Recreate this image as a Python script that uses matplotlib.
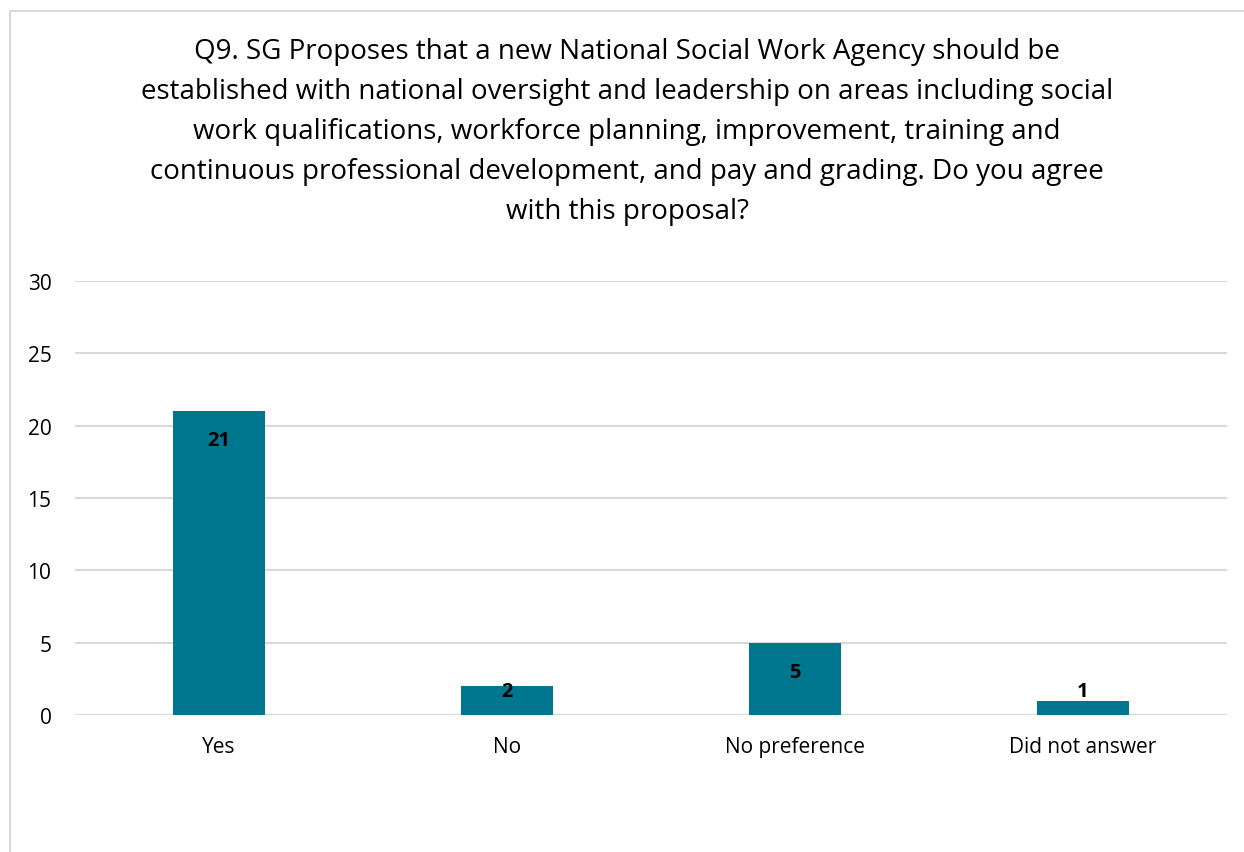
import matplotlib.pyplot as plt
from matplotlib.patches import Rectangle

categories = ["Yes", "No", "No preference", "Did not answer"]
counts = [21, 2, 5, 1]
yticks = [0, 5, 10, 15, 20, 25, 30]
title = ("Q9. SG Proposes that a new National Social Work Agency should be\n"
         "established with national oversight and leadership on areas including social\n"
         "work qualifications, workforce planning, improvement, training and\n"
         "continuous professional development, and pay and grading. Do you agree\n"
         "with this proposal?")

plt.rcParams["font.family"] = ["Open Sans", "DejaVu Sans"]

W, H = 1244, 853
fig = plt.figure(figsize=(W / 100, H / 100), dpi=100)
ax = fig.add_axes([75 / W, 1 - 716 / H, 1152 / W, 434 / H])

bar_color = "#00778F"
x = range(len(categories))
ax.bar(x, counts, width=0.32, color=bar_color, zorder=3)

# value labels: inside the top of the bar, pushed up for short bars
for i, v in enumerate(counts):
    ax.text(i, max(v - 2.0, 1.66), str(v), ha="center", va="center",
            fontsize=14.5, fontweight="bold", color="black", zorder=4)

ax.set_xlim(-0.5, len(categories) - 0.5)
ax.set_ylim(0, 30)
ax.set_yticks(yticks)
ax.set_xticks(list(x))
ax.set_xticklabels(categories)
ax.grid(axis="y", color="#d9d9d9", linewidth=1.5, zorder=0)
for s in ax.spines.values():
    s.set_visible(False)
ax.tick_params(axis="both", length=0, labelsize=15, colors="black")
ax.tick_params(axis="y", pad=17)
ax.tick_params(axis="x", pad=15)

fig.text(627 / W, 1 - 132 / H, title, ha="center", va="center",
         fontsize=20, linespacing=1.57)

# chart area outline
fig.patches.append(Rectangle((10 / W, -0.1), 1.2, 1 - 12 / H + 0.1,
                             transform=fig.transFigure, fill=False,
                             edgecolor="#d9d9d9", linewidth=1.5))

fig.savefig("out.png", dpi=100)
